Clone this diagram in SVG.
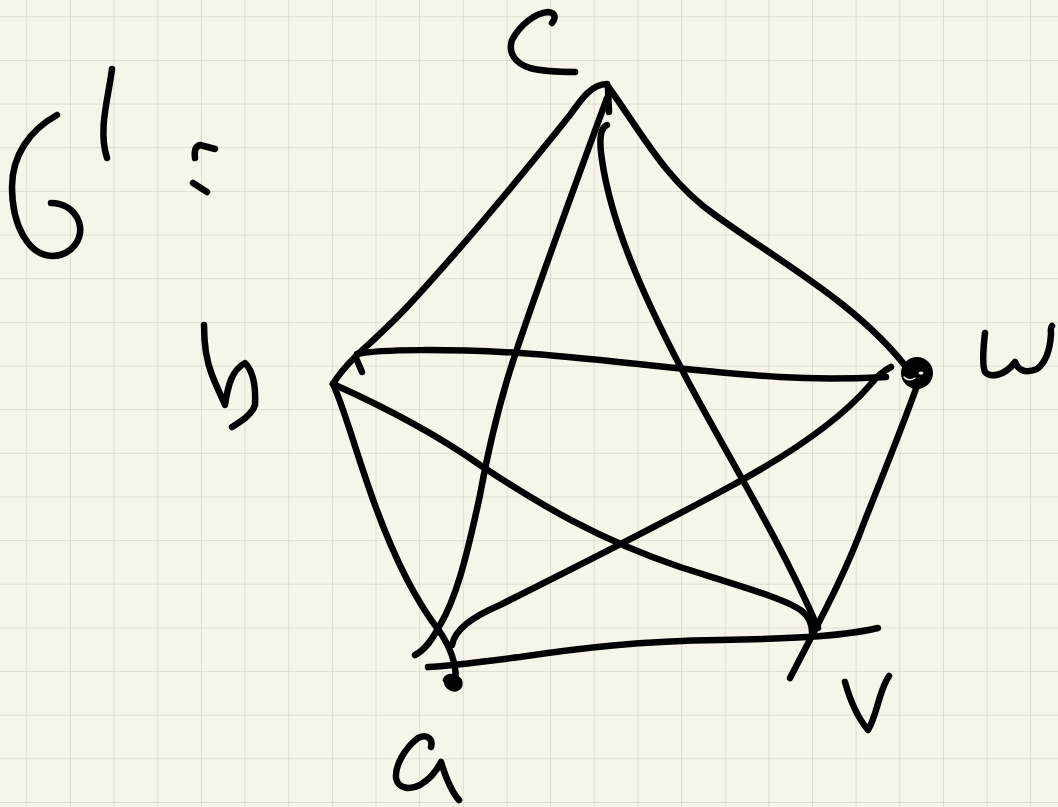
<svg xmlns="http://www.w3.org/2000/svg" width="1058" height="807" viewBox="0 0 1058 807">
<defs>
<pattern id="grid" patternUnits="userSpaceOnUse" x="26.3" y="16.3" width="43.65" height="43.65">
<rect width="43.65" height="43.65" fill="#f7f5ea"/>
<path d="M0,0 H43.65 M0,0 V43.65" stroke="#d8d6cb" stroke-width="1.6" fill="none"/>
</pattern>
<style>
.ink{fill:none;stroke:#000;stroke-width:6.5;stroke-linecap:round;stroke-linejoin:round}
</style>
</defs>
<rect width="1058" height="807" fill="url(#grid)"/>
<g id="title">
<path class="ink" d="M57,115 C30,130 12,155 12,187 C12,225 28,255 52,256 C72,256 84,238 79,222 C74,208 62,203 51,203"/>
<path class="ink" d="M112,69 C108,100 98,130 107,158"/>
<path class="ink" d="M195,158 C194,150 196,146 200,145 L215,149"/>
<path class="ink" d="M193,183 L207,192"/>
</g>
<g id="connectors">
<path id="e-c-b" class="ink" d="M607,84 C592,84 582,98 570,115 C530,165 460,250 407,307 C385,330 368,345 356,356 C348,364 340,372 333,384"/>
<path class="ink" d="M356,358 L362,372"/>
<path id="e-c-w" class="ink" d="M607,85 C640,130 665,180 715,215 C780,262 860,305 910,372"/>
<path class="ink" d="M608,88 L609,112"/>
<path id="e-c-a" class="ink" d="M607,98 C575,185 540,280 515,355 C500,400 490,440 480,495 C465,565 455,600 440,625 C432,640 425,650 415,655"/>
<path id="e-c-v" class="ink" d="M607,125 C600,128 599,140 602,160 C612,230 650,310 690,385 C730,460 780,540 818,628"/>
<path id="e-b-w" class="ink" d="M357,354 C380,349 450,349 520,353 C600,358 690,372 780,377 C830,380 865,378 886,377"/>
<path id="e-b-v" class="ink" d="M333,384 C380,405 430,430 480,465 C540,505 600,540 680,567 C740,586 790,600 803,612 C810,618 812,625 812,632"/>
<path id="e-b-a" class="ink" d="M333,384 C345,410 355,450 375,505 C395,560 415,600 440,632 C452,650 458,668 455,687"/>
<path id="e-a-w" class="ink" d="M452,645 C455,630 470,618 500,605 C560,575 640,535 720,492 C790,455 840,420 870,385 C878,375 885,370 891,367"/>
<path id="e-a-v" class="ink" d="M428,667 C450,666 480,662 520,657 C580,648 640,641 720,640 C780,639 840,637 878,628"/>
<path id="e-w-v" class="ink" d="M918,383 C905,420 885,470 865,520 C845,575 820,620 790,678"/>
</g>
<g id="node-c">
<path class="ink" d="M552,23 C556,18 556,13 548,12 C535,13 520,25 512,40 C508,52 514,63 530,68 C545,72 560,72 575,72"/>
</g>
<g id="node-w">
<circle cx="917" cy="373" r="12" fill="#000" stroke="#000" stroke-width="8"/>
<path d="M904,377 C907,381 912,380 915,378" fill="none" stroke="#f7f5ea" stroke-width="1.4" stroke-linecap="round"/>
<ellipse cx="921" cy="373" rx="2.5" ry="1.6" fill="#f7f5ea"/>
<path class="ink" d="M985,333 C983,350 982,365 985,372 C990,378 1005,376 1015,362 C1018,370 1025,374 1037,369 C1045,363 1050,350 1051,334 C1051,330 1050,328 1052,326"/>
</g>
<g id="node-b">
<path class="ink" d="M204,325 C204,345 206,360 212,375 C218,390 223,400 225,405 C228,385 232,370 245,363 C252,370 256,385 255,405 C252,415 240,422 232,427"/>
</g>
<g id="node-a">
<path class="ink" d="M446,680 C448,676 455,676 459,681 C461,687 455,691 449,686 C446,683 447,681 452,682"/>
<path class="ink" d="M431,747 C433,740 428,733 418,738 C405,748 395,765 396,778 C398,789 410,790 420,785 C432,778 438,768 441,762 C445,775 450,790 459,800"/>
</g>
<g id="node-v">
<path class="ink" d="M845,682 C850,700 858,718 868,730 C873,722 876,710 879,700 C882,690 885,682 889,676"/>
</g>
</svg>
